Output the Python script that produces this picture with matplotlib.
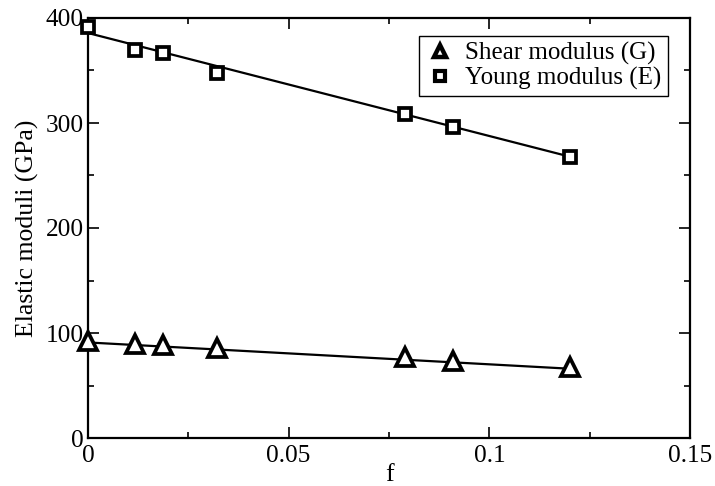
import matplotlib
matplotlib.use("Agg")
import matplotlib.pyplot as plt
from matplotlib.lines import Line2D
from matplotlib.ticker import MultipleLocator

plt.rcParams['font.family'] = ['Liberation Serif', 'DejaVu Serif']

# data
f_vals = [0.0, 0.0117, 0.0187, 0.0321, 0.079, 0.091, 0.120]
young = [391.5, 369.5, 366.5, 347.5, 308.5, 296.5, 268.0]
shear = [92.5, 89.5, 89.0, 85.5, 77.0, 73.0, 67.5]
fit_x = [0.0, 0.120]
young_fit = [385.7, 268.0]
shear_fit = [91.0, 66.0]

fig = plt.figure(figsize=(7.15, 4.86), dpi=100)
ax = fig.add_axes([88/715, 48/486, 602/715, 420/486])

ax.plot(fit_x, young_fit, color='black', lw=1.6, zorder=2)
ax.plot(fit_x, shear_fit, color='black', lw=1.6, zorder=2)
ax.plot(f_vals, shear, linestyle='none', marker='^', ms=12.5, mfc='white',
        mec='black', mew=2.7, zorder=3, clip_on=False)
ax.plot(f_vals, young, linestyle='none', marker='s', ms=9.2, mfc='white',
        mec='black', mew=2.7, zorder=3, clip_on=False)

ax.set_xlim(0, 0.15)
ax.set_ylim(0, 400)
ax.xaxis.set_major_locator(MultipleLocator(0.05))
ax.xaxis.set_minor_locator(MultipleLocator(0.025))
ax.yaxis.set_major_locator(MultipleLocator(100))
ax.yaxis.set_minor_locator(MultipleLocator(50))
ax.set_xticks([0, 0.05, 0.1, 0.15])
ax.set_xticklabels(['0', '0.05', '0.1', '0.15'])
ax.set_yticks([0, 100, 200, 300, 400])
ax.set_yticklabels(['0', '100', '200', '300', '400'])

for s in ax.spines.values():
    s.set_linewidth(1.6)
ax.tick_params(which='both', direction='in', top=True, right=True, width=1.2)
ax.tick_params(which='major', length=8, labelsize=18.2)
ax.tick_params(axis='x', which='major', pad=5)
ax.tick_params(axis='y', which='major', pad=3)
ax.tick_params(which='minor', length=4)

ax.set_xlabel('f', fontsize=18.5, labelpad=-2)
ax.set_ylabel('Elastic moduli (GPa)', fontsize=18.5, labelpad=5)

handles = [
    Line2D([], [], linestyle='none', marker='^', ms=9, mfc='white', mec='black', mew=3.2),
    Line2D([], [], linestyle='none', marker='s', ms=7.5, mfc='white', mec='black', mew=3),
]
leg = ax.legend(handles, ['Shear modulus (G)', 'Young modulus (E)'],
                loc='upper right', bbox_to_anchor=(0.963, 0.957), borderaxespad=0,
                fontsize=18, frameon=True, fancybox=False, framealpha=1,
                edgecolor='black', handlelength=1.2, handletextpad=0.4,
                labelspacing=0.05, borderpad=0.25)
leg.get_frame().set_linewidth(1.0)

fig.savefig('out.png', dpi=100)
